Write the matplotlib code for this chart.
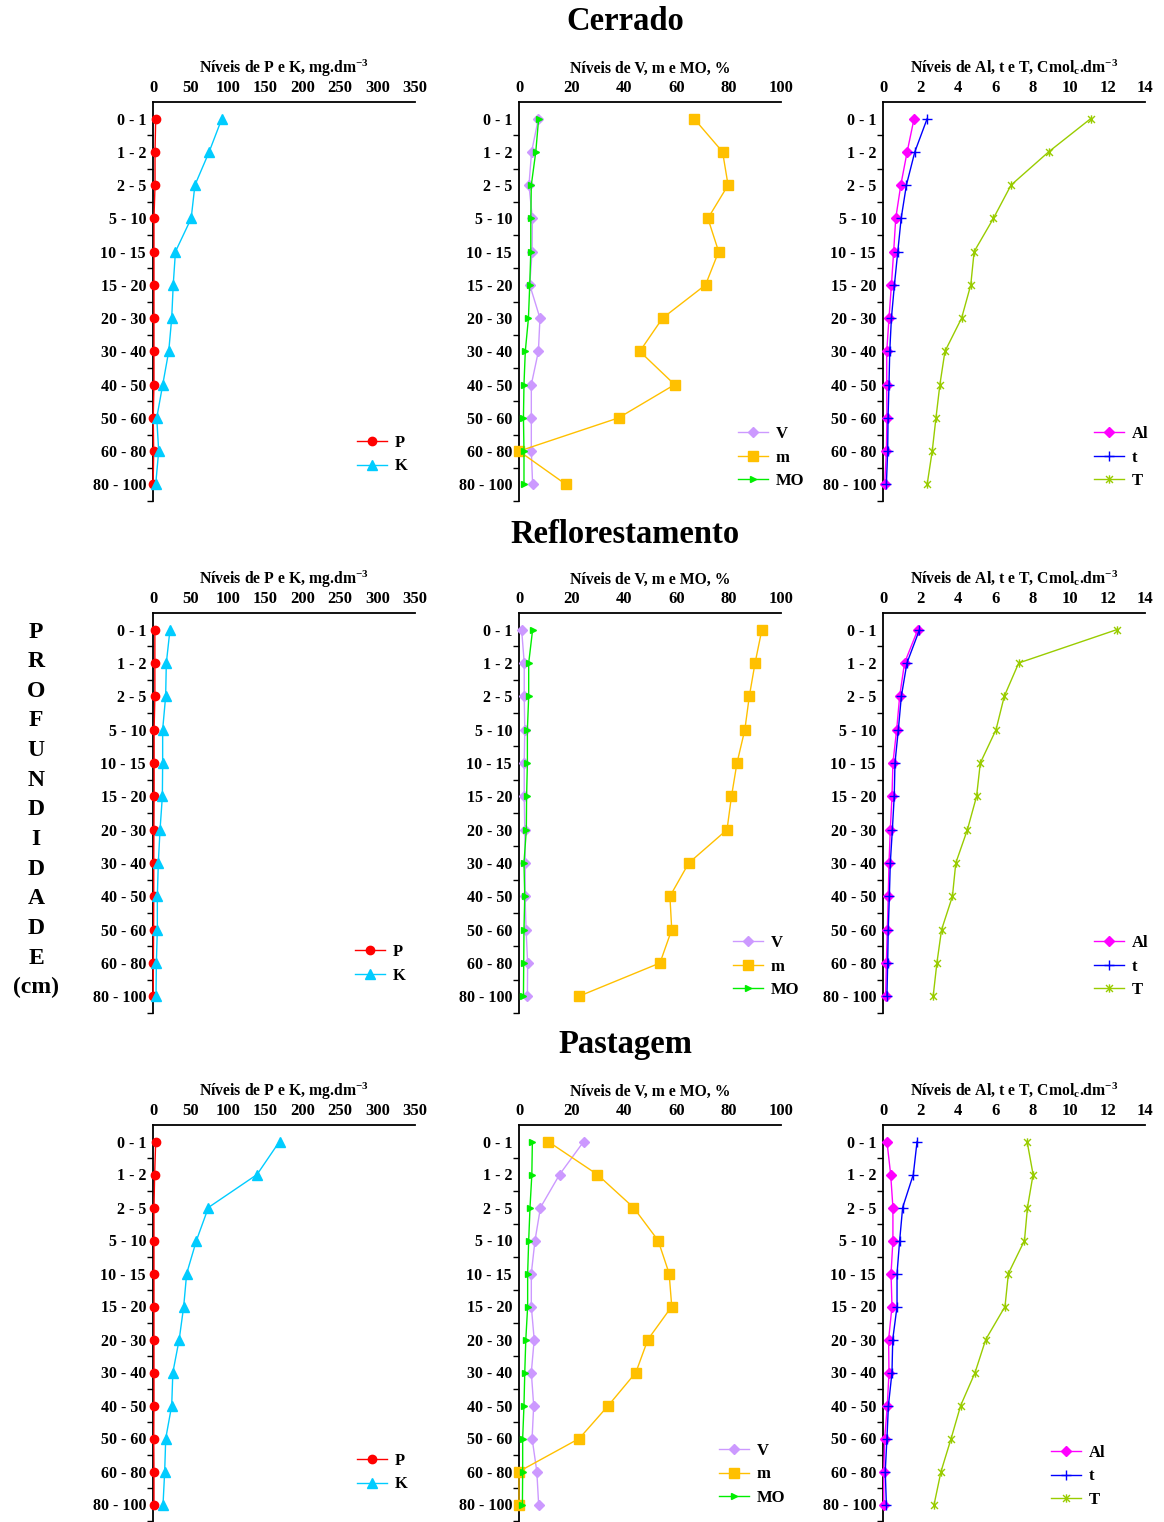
import matplotlib
matplotlib.use("Agg")
import matplotlib.pyplot as plt
from matplotlib.path import Path

plt.rcParams['font.family'] = ['Liberation Serif', 'DejaVu Serif']
plt.rcParams['font.weight'] = 'bold'
plt.rcParams['mathtext.fontset'] = 'custom'
plt.rcParams['mathtext.rm'] = 'Liberation Serif:bold'
plt.rcParams['mathtext.bf'] = 'Liberation Serif:bold'
plt.rcParams['mathtext.default'] = 'bf'

# depth classes (cm)
depths = ['0 - 1', '1 - 2', '2 - 5', '5 - 10', '10 - 15', '15 - 20', '20 - 30',
          '30 - 40', '40 - 50', '50 - 60', '60 - 80', '80 - 100']
areas = ['Cerrado', 'Reflorestamento', 'Pastagem']

# P and K, mg.dm-3
cer_P = [3.6, 2.7, 2.7, 1.3, 1.3, 1.3, 1.3, 1.3, 1.3, 0.3, 0.9, 0.2]
cer_K = [92, 75, 56, 51, 30, 27, 25, 21, 13, 5, 7.6, 3.6]
ref_P = [2.5, 2.5, 2.5, 1.5, 1.5, 1.5, 1.2, 1.0, 1.0, 0.8, 0.5, 0.3]
ref_K = [22.7, 17.8, 16.9, 12.9, 12.9, 12.5, 9.4, 7.1, 5.8, 5.8, 4.5, 4.0]
pas_P = [3.6, 2.2, 1.3, 1.3, 1.3, 1.3, 1.3, 1.3, 1.3, 1.0, 1.3, 1.3]
pas_K = [169, 139, 74, 58, 45, 41, 35, 26.5, 25, 17, 15.6, 13.4]

# V, m and MO, %
cer_V = [7.4, 4.8, 3.8, 5.1, 5.0, 4.1, 8.0, 7.4, 4.7, 4.7, 4.7, 5.2]
cer_m = [66.8, 77.7, 79.8, 72.1, 76.2, 71.2, 54.8, 46.1, 59.4, 38.0, 0.0, 17.9]
cer_MO = [7.5, 6.4, 4.7, 4.5, 4.5, 4.1, 3.6, 2.4, 1.9, 1.7, 1.9, 1.9]
ref_V = [1.0, 2.0, 2.0, 2.2, 2.0, 2.0, 2.2, 2.4, 2.3, 2.7, 3.3, 3.2]
ref_m = [92.7, 90.1, 87.9, 86.2, 83.2, 81.1, 79.4, 64.8, 57.6, 58.3, 53.8, 22.8]
ref_MO = [5.2, 3.7, 3.7, 3.2, 3.2, 2.9, 2.8, 1.9, 2.2, 1.9, 1.8, 1.7]
pas_V = [24.7, 15.5, 8.2, 6.1, 4.7, 4.7, 5.8, 4.7, 5.6, 5.0, 6.8, 7.5]
pas_m = [11.1, 29.9, 43.7, 53.1, 57.3, 58.3, 49.2, 44.6, 34.1, 23.0, 0.0, 0.0]
pas_MO = [5.1, 4.9, 4.2, 3.7, 3.3, 3.3, 2.6, 2.2, 1.9, 1.4, 1.4, 1.3]

# Al, t and T, Cmolc.dm-3
cer_Al = [1.66, 1.29, 0.95, 0.68, 0.57, 0.45, 0.32, 0.20, 0.20, 0.21, 0.18, 0.09]
cer_t = [2.36, 1.70, 1.25, 0.97, 0.79, 0.61, 0.45, 0.36, 0.32, 0.27, 0.25, 0.18]
cer_T = [11.1, 8.85, 6.84, 5.9, 4.87, 4.69, 4.2, 3.31, 3.04, 2.83, 2.63, 2.36]
ref_Al = [1.86, 1.15, 0.89, 0.73, 0.53, 0.48, 0.39, 0.32, 0.28, 0.23, 0.18, 0.14]
ref_t = [1.95, 1.28, 0.98, 0.82, 0.64, 0.60, 0.50, 0.39, 0.34, 0.28, 0.25, 0.21]
ref_T = [12.49, 7.25, 6.48, 6.04, 5.2, 5.0, 4.51, 3.89, 3.71, 3.13, 2.88, 2.68]
pas_Al = [0.21, 0.41, 0.53, 0.53, 0.43, 0.48, 0.30, 0.32, 0.23, 0.09, 0.04, 0.04]
pas_t = [1.82, 1.62, 1.05, 0.89, 0.75, 0.75, 0.52, 0.48, 0.29, 0.21, 0.12, 0.18]
pas_T = [7.7, 8.02, 7.72, 7.56, 6.7, 6.52, 5.49, 4.92, 4.15, 3.64, 3.1, 2.73]

# asterisk-like marker (x with a vertical bar)
star = Path([(-1, -1), (1, 1), (-1, 1), (1, -1), (0, -1.2), (0, 1.2)],
            [Path.MOVETO, Path.LINETO, Path.MOVETO, Path.LINETO, Path.MOVETO, Path.LINETO])

styles = {
    'P': dict(color='#FF0000', marker='o', ms=6),
    'K': dict(color='#00CCFF', marker='^', ms=7),
    'V': dict(color='#CC99FF', marker='D', ms=5),
    'm': dict(color='#FFC000', marker='s', ms=7),
    'MO': dict(color='#00EE00', marker='>', ms=5),
    'Al': dict(color='#FF00FF', marker='D', ms=5),
    't': dict(color='#0000FF', marker='+', ms=7, mew=1),
    'T': dict(color='#99CC00', marker=star, ms=6, mew=1),
}

panels = [
    [[('P', cer_P), ('K', cer_K)], [('V', cer_V), ('m', cer_m), ('MO', cer_MO)], [('Al', cer_Al), ('t', cer_t), ('T', cer_T)]],
    [[('P', ref_P), ('K', ref_K)], [('V', ref_V), ('m', ref_m), ('MO', ref_MO)], [('Al', ref_Al), ('t', ref_t), ('T', ref_T)]],
    [[('P', pas_P), ('K', pas_K)], [('V', pas_V), ('m', pas_m), ('MO', pas_MO)], [('Al', pas_Al), ('t', pas_t), ('T', pas_T)]],
]
xtitles = ['Níveis de P e K, mg.dm$^{-3}$', 'Níveis de V, m e MO, %',
           'Níveis de Al, t e T, Cmol$_{c}$.dm$^{-3}$']
xmax = [350, 100, 14]
xstep = [50, 20, 2]

W, H = 1164, 1522
fig = plt.figure(figsize=(W / 100, H / 100), dpi=100)

row_top = [102, 613, 1125]
row_bot = [501, 1013, 1521]
col_x = [(153, 415), (519, 781), (883, 1145)]
title_y = [22, 534, 1044]
# legend anchor (left of handle, centre of first row) in pixels
leg_xy = [[(357, 444), (738, 435), (1094, 435)],
          [(355, 953), (733, 944), (1094, 944)],
          [(357, 1462), (719, 1452), (1051, 1454)]]

ypos = list(range(len(depths)))

for r in range(3):
    fig.text(625 / W, 1 - title_y[r] / H, areas[r], ha='center', va='center',
             fontsize=23.5, fontweight='bold')
    for c in range(3):
        x0, x1 = col_x[c]
        yt, yb = row_top[r], row_bot[r]
        ax = fig.add_axes([x0 / W, 1 - yb / H, (x1 - x0) / W, (yb - yt) / H])
        for name, vals in panels[r][c]:
            st = styles[name]
            ax.plot(vals, ypos, color=st['color'], lw=1, marker=st['marker'],
                    ms=st['ms'], mew=st.get('mew', 1), mfc=st['color'], mec=st['color'],
                    label=name, clip_on=False, zorder=3)
        ax.set_xlim(0, xmax[c])
        ax.set_ylim(len(depths) - 0.5, -0.5)
        ax.set_xticks(range(0, xmax[c] + 1, xstep[c]))
        ax.xaxis.tick_top()
        ax.tick_params(axis='x', length=0, pad=4, labelsize=12)
        ax.set_yticks(ypos)
        ax.set_yticklabels(depths)
        ax.set_yticks([p + 0.5 for p in ypos], minor=True)
        ax.tick_params(axis='y', which='major', length=0, pad=5, labelsize=11.5)
        ax.tick_params(axis='y', which='minor', length=4, width=1, direction='out')
        for lab in ax.get_xticklabels() + ax.get_yticklabels():
            lab.set_fontweight('bold')
        ax.spines['right'].set_visible(False)
        ax.spines['bottom'].set_visible(False)
        ax.spines['top'].set_linewidth(1.3)
        ax.spines['left'].set_linewidth(1.3)
        ax.set_title(xtitles[c], fontsize=11.3, fontweight='bold', pad=21)
        lx, ly = leg_xy[r][c]
        bx = (lx - x0) / (x1 - x0)
        by = 1 - (ly - 9 - yt) / (yb - yt)
        ax.legend(loc='upper left', bbox_to_anchor=(bx, by), frameon=False,
                  borderpad=0, borderaxespad=0, handlelength=1.8,
                  handletextpad=0.45, labelspacing=0.45,
                  prop={'family': 'Liberation Serif', 'weight': 'bold', 'size': 12})

fig.text(36 / W, 1 - 810 / H, 'P\nR\nO\nF\nU\nN\nD\nI\nD\nA\nD\nE\n(cm)',
         ha='center', va='center', fontsize=17, fontweight='bold', linespacing=1.54)

fig.savefig('out.png', dpi=100)
